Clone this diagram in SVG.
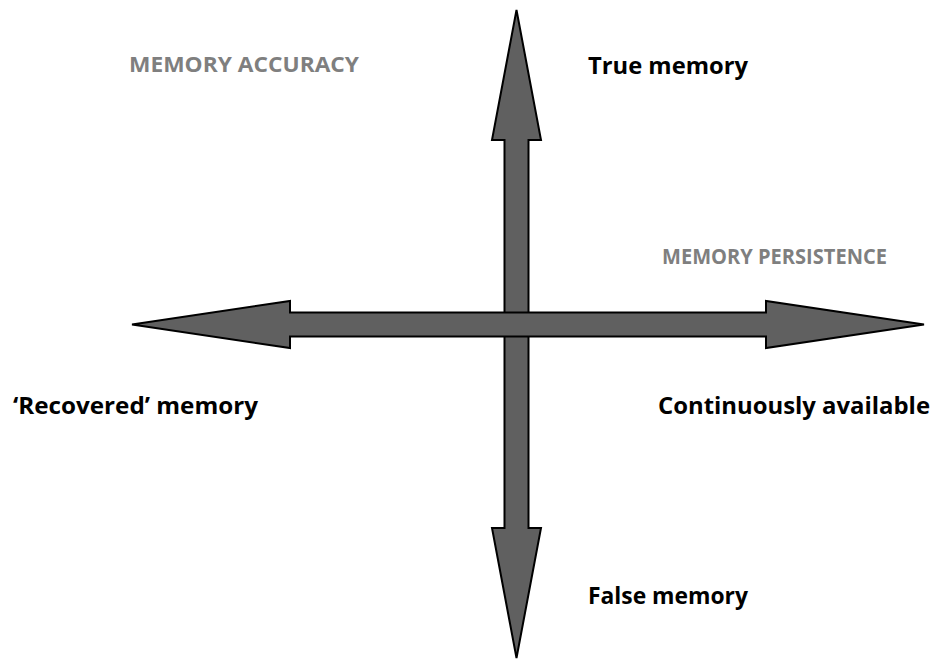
<svg xmlns="http://www.w3.org/2000/svg" width="935" height="659" viewBox="0 0 935 659">
<style>
.arrow{fill:#606060;stroke:#000;stroke-width:2;stroke-linejoin:miter}
.axis{font-family:"Open Sans","Liberation Sans",sans-serif;font-weight:bold;font-size:21px;fill:#7f7f7f}
.lbl{font-family:"Open Sans","Liberation Sans",sans-serif;font-weight:bold;font-size:24px;fill:#000}
</style>
<rect width="935" height="659" fill="#fff"/>
<g id="connectors">
<polygon id="vertical-axis" class="arrow" points="516.5,10 541,140 528.5,140 528.5,528 541,528 516.5,658 492,528 504.5,528 504.5,140 492,140"/>
<polygon id="horizontal-axis" class="arrow" points="132,324.5 290,301 290,312.5 766,312.5 766,301 924,324.5 766,348 766,336.5 290,336.5 290,348"/>
</g>
<g id="memory-accuracy"><text class="axis" x="129" y="72" textLength="230" lengthAdjust="spacingAndGlyphs">MEMORY ACCURACY</text></g>
<g id="true-memory"><text class="lbl" x="588" y="74" textLength="160" lengthAdjust="spacingAndGlyphs">True memory</text></g>
<g id="memory-persistence"><text class="axis" x="662" y="264" textLength="225" lengthAdjust="spacingAndGlyphs">MEMORY PERSISTENCE</text></g>
<g id="recovered-memory"><text class="lbl" x="13" y="414" textLength="245" lengthAdjust="spacingAndGlyphs">‘Recovered’ memory</text></g>
<g id="continuously-available"><text class="lbl" x="658" y="414" textLength="272" lengthAdjust="spacingAndGlyphs">Continuously available</text></g>
<g id="false-memory"><text class="lbl" x="588" y="604" textLength="160" lengthAdjust="spacingAndGlyphs">False memory</text></g>
</svg>
